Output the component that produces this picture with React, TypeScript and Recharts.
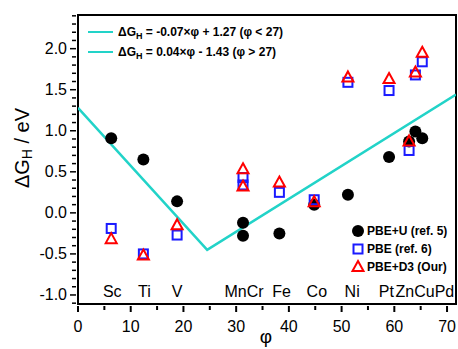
import React from 'react';
import { ComposedChart, Scatter, XAxis, YAxis, ReferenceArea } from 'recharts';

// element positions (φ) and ΔG_H values
const elements = ['Sc', 'Ti', 'V', 'Mn', 'Cr', 'Fe', 'Co', 'Ni', 'Pt', 'Zn', 'Cu', 'Pd'];
const phi = [6.3, 12.4, 18.8, 31.3, 31.3, 38.2, 44.8, 51.2, 59.0, 62.8, 64.0, 65.3];
const pbeU = [0.91, 0.65, 0.14, -0.28, -0.12, -0.25, 0.1, 0.22, 0.68, 0.87, 0.99, 0.91];
const pbe = [-0.19, -0.5, -0.27, 0.43, 0.34, 0.25, 0.16, 1.59, 1.49, 0.76, 1.68, 1.84];
const pbeD3 = [-0.32, -0.52, -0.15, 0.53, 0.32, 0.37, 0.13, 1.65, 1.63, 0.87, 1.71, 1.95];

// fitted volcano lines
const fitPhi = [0, 24.5, 71.7];
const fitG = [1.28, -0.45, 1.44];

// element labels along the bottom of the plot
const labelText = ['Sc', 'Ti', 'V', 'MnCr', 'Fe', 'Co', 'Ni', 'Pt', 'ZnCuPd'];
const labelPhi = [6.5, 12.6, 18.8, 31.5, 38.6, 45.3, 52.0, 58.5, 65.8];
const labelY = -0.96;

const xTicks = [0, 5, 10, 15, 20, 25, 30, 35, 40, 45, 50, 55, 60, 65, 70];
const yTicks = [-1.1, -1.0, -0.9, -0.8, -0.7, -0.6, -0.5, -0.4, -0.3, -0.2, -0.1, 0, 0.1, 0.2, 0.3, 0.4, 0.5, 0.6, 0.7, 0.8, 0.9, 1.0, 1.1, 1.2, 1.3, 1.4, 1.5, 1.6, 1.7, 1.8, 1.9, 2.0, 2.1, 2.2, 2.3, 2.4];

const FONT = '"Liberation Sans", Arial, Helvetica, sans-serif';
const CYAN = '#22d3c8';

const toPoints = (ys: number[]) => phi.map((x, i) => ({ x, y: ys[i], name: elements[i] }));
const fitData = fitPhi.map((x, i) => ({ x, y: fitG[i] }));
const labelData = labelPhi.map((x, i) => ({ x, y: labelY, name: labelText[i] }));

const Dot = ({ cx, cy }: any) => <circle cx={cx} cy={cy} r={6} fill="#000" />;
const Square = ({ cx, cy }: any) => (
  <rect x={cx - 4.5} y={cy - 4.5} width={9} height={9} fill="none" stroke="#1a1aff" strokeWidth={2} />
);
const Triangle = ({ cx, cy }: any) => (
  <polygon
    points={`${cx},${cy - 6} ${cx + 5.5},${cy + 4} ${cx - 5.5},${cy + 4}`}
    fill="none"
    stroke="#ff0000"
    strokeWidth={2}
  />
);
const ElemLabel = ({ cx, cy, payload }: any) => (
  <text x={cx} y={cy} textAnchor="middle" dominantBaseline="central" fontSize={16} fontFamily={FONT} fill="#000">
    {payload.name}
  </text>
);

const XTick = ({ x, y, payload }: any) => {
  const major = payload.value % 10 === 0;
  return (
    <g>
      <line x1={x} x2={x} y1={y} y2={y + (major ? 6 : 4)} stroke="#000" strokeWidth={2} />
      {major && (
        <text x={x} y={y + 20} textAnchor="middle" dominantBaseline="central" fontSize={16} fontFamily={FONT} fill="#000">
          {payload.value}
        </text>
      )}
    </g>
  );
};

const YTick = ({ x, y, payload }: any) => {
  const v = Math.round(payload.value * 10);
  const major = v % 5 === 0;
  return (
    <g>
      <line x1={x} x2={x - (major ? 6 : 4)} y1={y} y2={y} stroke="#000" strokeWidth={1.5} />
      {major && (
        <text x={x - 9} y={y} textAnchor="end" dominantBaseline="central" fontSize={16} fontFamily={FONT} fill="#000">
          {(v / 10).toFixed(1)}
        </text>
      )}
    </g>
  );
};

const LegendOverlay = () => (
  <svg width={458} height={349} style={{ position: 'absolute', left: 0, top: 0, pointerEvents: 'none' }}>
    <g fontFamily={FONT} fontWeight="bold" fontSize={12} fill="#000">
      <line x1={88} x2={113} y1={32} y2={32} stroke={CYAN} strokeWidth={2} />
      <text x={118} y={32} dominantBaseline="central">
        ΔG<tspan fontSize={9} dy={4}>H</tspan>
        <tspan dy={-4}> = -0.07×φ + 1.27 (φ &lt; 27)</tspan>
      </text>
      <line x1={88} x2={113} y1={52} y2={52} stroke={CYAN} strokeWidth={2} />
      <text x={118} y={52} dominantBaseline="central">
        ΔG<tspan fontSize={9} dy={4}>H</tspan>
        <tspan dy={-4}> = 0.04×φ - 1.43 (φ &gt; 27)</tspan>
      </text>

      <circle cx={358} cy={231} r={6} fill="#000" />
      <text x={367} y={231} dominantBaseline="central">PBE+U (ref. 5)</text>
      <rect x={353.5} y={244.5} width={9} height={9} fill="none" stroke="#1a1aff" strokeWidth={2} />
      <text x={367} y={249} dominantBaseline="central">PBE (ref. 6)</text>
      <polygon points="358,261 363.5,271 352.5,271" fill="none" stroke="#ff0000" strokeWidth={2} />
      <text x={367} y={267} dominantBaseline="central">PBE+D3 (Our)</text>
    </g>
    <text
      x={22}
      y={148}
      transform="rotate(-90 22 148)"
      textAnchor="middle"
      dominantBaseline="central"
      fontFamily={FONT}
      fontSize={20}
      fill="#000"
    >
      ΔG<tspan fontSize={14} dy={5}>H</tspan>
      <tspan dy={-5}> / eV</tspan>
    </text>
    <text x={266} y={336} textAnchor="middle" dominantBaseline="central" fontFamily={FONT} fontSize={19} fill="#000">
      φ
    </text>
  </svg>
);

const App: React.FC = () => {
  return (
    <div style={{ position: 'absolute', left: 0, top: 0, width: 458, height: 349, background: '#fff' }}>
      <ComposedChart width={458} height={349} margin={{ top: 15, right: 2, bottom: 0, left: 0 }}>
        <XAxis
          type="number"
          dataKey="x"
          domain={[0, 71.7]}
          ticks={xTicks}
          tick={<XTick />}
          tickLine={false}
          tickSize={0}
          height={45}
          axisLine={{ stroke: '#000', strokeWidth: 2 }}
          allowDataOverflow
        />
        <YAxis
          type="number"
          dataKey="y"
          domain={[-1.11, 2.41]}
          ticks={yTicks}
          tick={<YTick />}
          tickLine={false}
          tickSize={0}
          width={78}
          interval={0}
          axisLine={{ stroke: '#000', strokeWidth: 2 }}
          allowDataOverflow
        />
        <ReferenceArea x1={0} x2={71.7} y1={-1.11} y2={2.41} fill="none" stroke="#000" strokeWidth={2} ifOverflow="visible" />
        <Scatter data={fitData} line={{ stroke: CYAN, strokeWidth: 2.5 }} shape={() => <g />} isAnimationActive={false} />
        <Scatter data={labelData} shape={<ElemLabel />} isAnimationActive={false} />
        <Scatter data={toPoints(pbeU)} shape={<Dot />} isAnimationActive={false} />
        <Scatter data={toPoints(pbe)} shape={<Square />} isAnimationActive={false} />
        <Scatter data={toPoints(pbeD3)} shape={<Triangle />} isAnimationActive={false} />
      </ComposedChart>
      <LegendOverlay />
    </div>
  );
};

export default App;
